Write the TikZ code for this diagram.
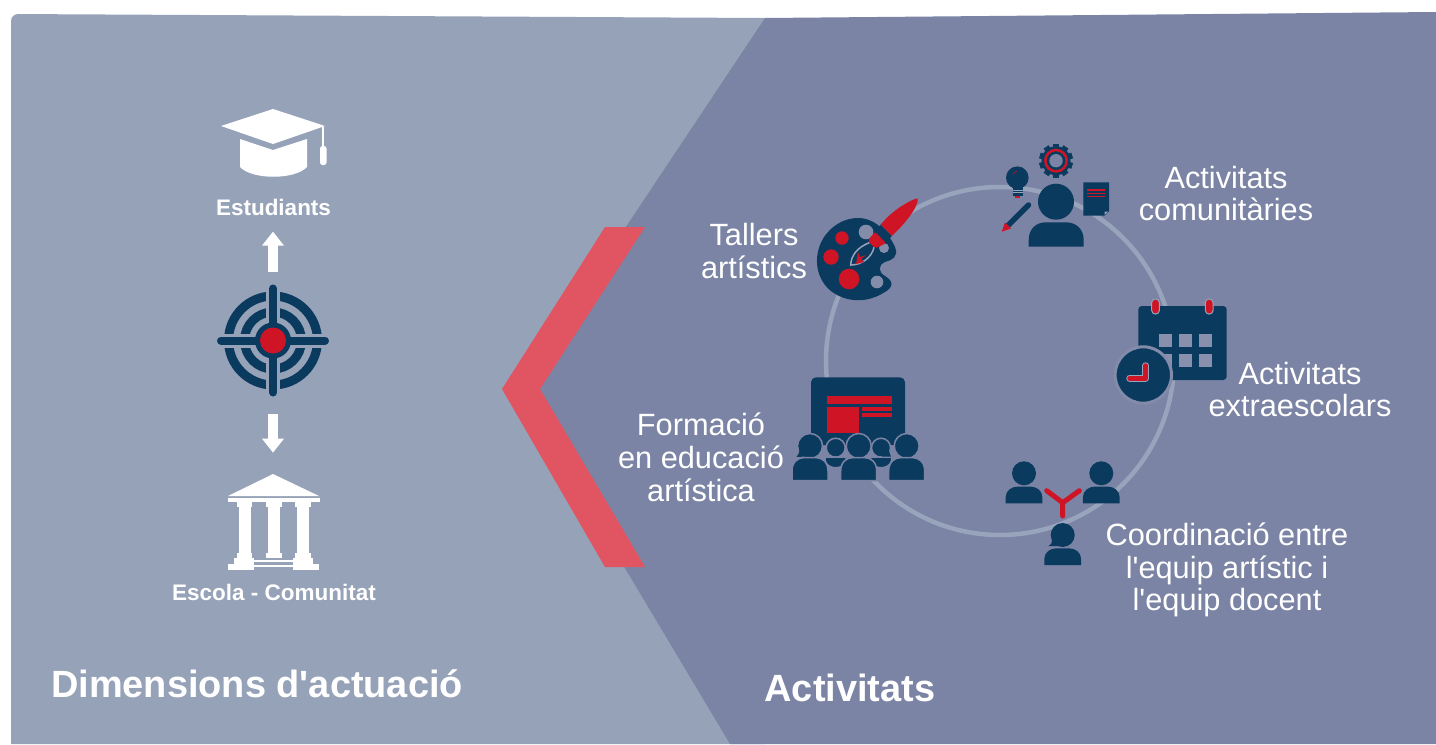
\documentclass[tikz,border=0pt]{standalone}
\usepackage{fontspec}
\setmainfont{Liberation Sans}
\usepackage{xcolor}
\usetikzlibrary{arrows.meta}
\definecolor{leftpanel}{HTML}{96A2B8}
\definecolor{rightpanel}{HTML}{7B84A4}
\definecolor{chevron}{HTML}{E05561}
\definecolor{navy}{HTML}{0B3A5F}
\definecolor{brightred}{HTML}{CF1425}
\definecolor{ringcol}{HTML}{98A4BC}

\begin{document}
\begin{tikzpicture}[x=0.02cm,y=-0.02cm,
    activity/.style={text=white,align=center,inner sep=0,font=\fontsize{17.5}{18.7}\selectfont},
    dimlabel/.style={text=white,inner sep=0,font=\bfseries\fontsize{12.8}{14}\selectfont},
    bigtitle/.style={text=white,inner sep=0,font=\bfseries\fontsize{21.6}{24}\selectfont},
    blockarrow/.style={white,line width=0.2cm,-{Triangle[length=0.28cm,width=0.42cm]}},
    icon/.style={fill=navy},
    halo/.style={fill=navy,draw=rightpanel,line width=0.03cm},
    redline/.style={brightred,line cap=round,line width=0.1cm}]
    \useasboundingbox (0,0) rectangle (1436,744);

    % Panels
    \fill[leftpanel] [rounded corners=0.14cm] (11,744) -- (11,14) [sharp corners] -- (765,18) -- (765,744) -- cycle;
    \fill[rightpanel] (765,18) -- (1436,12) -- (1436,744) -- (730,744) -- (518,389) -- cycle;
    \fill[chevron] (605,227) -- (645,227) -- (540,389) -- (645,567) -- (605,567) -- (502,389) -- cycle;

    % Ring
    \draw[ringcol,line width=0.09cm] (1000,361) circle (174);

    % Left column
    \node[dimlabel] (estudiants) at (273.5,207) {Estudiants};
    \node[dimlabel] (escola) at (274,592) {Escola - Comunitat};
    \node[bigtitle] (dimensions) at (257,684) {Dimensions d\textquotesingle actuació};
    \node[bigtitle] (activitats) at (850,688) {Activitats};
    \node[circle,minimum size=2.24cm,inner sep=0] (target) at (273,340.5) {};
    \node[minimum width=1.84cm,minimum height=1.92cm,inner sep=0] (temple) at (273.5,522) {};

    % Mortarboard
    \fill[white] (273,109) -- (325,126) -- (273,144) -- (221,126) -- cycle;
    \fill[white] (240,139) -- (273,150) -- (307,139) -- (307,167) .. controls (295,180) and (252,180) .. (240,167) -- cycle;
    \draw[white,line width=0.04cm] (323,127) -- (323,147);
    \fill[white,rounded corners=0.05cm] (320,146) rectangle (326.5,165);

    % Target
    \foreach \r in {44.5,28.5}
        \draw[navy,line width=0.18cm] (target.center) circle (\r);
    \draw[leftpanel,line width=0.28cm] (217,340.5) -- (329,340.5);
    \draw[leftpanel,line width=0.28cm] (273,284.5) -- (273,396.5);
    \draw[navy,line width=0.16cm,line cap=round] (221,340.5) -- (325,340.5);
    \draw[navy,line width=0.16cm,line cap=round] (273,288.5) -- (273,392.5);
    \fill[navy] (target.center) circle (18);
    \fill[brightred] (target.center) circle (13);

    % Arrows
    \draw[blockarrow,shorten <=0.24cm,shorten >=0.32cm] (target) -- (target |- estudiants.south);
    \draw[blockarrow,shorten <=0.34cm,shorten >=0.42cm] (target) -- (temple.north -| target);

    % Temple
    \fill[white] (273,474) -- (319,496) -- (228,496) -- cycle;
    \fill[white] (228,497.5) rectangle (319.5,501.7);
    \foreach \x in {244.5,273.8,303}{
        \fill[white] (\x-7.8,502.4) rectangle (\x+7.8,506.7);
        \fill[white] (\x-6,506.7) rectangle (\x+6,553);
        \fill[white] (\x-7.8,553) rectangle (\x+7.8,557.7);
    }
    \fill[white] (234,557.7) rectangle (254.3,564);
    \fill[white] (228,564) rectangle (254.3,570);
    \fill[white] (292.7,557.7) rectangle (313,564);
    \fill[white] (292.7,564) rectangle (319.3,570);
    \fill[white] (254,560) rectangle (293,562);
    \fill[white] (254,565) rectangle (293,567.3);

    % Palette
    \fill[icon] (858,218) .. controls (875,218) and (888,232) .. (895,247) .. controls (899,257) and (892,260) .. (885,262)
        .. controls (878,265) and (878,272) .. (885,276) .. controls (895,282) and (892,288) .. (885,292)
        .. controls (860,308) and (835,298) .. (825,285) .. controls (812,268) and (816,245) .. (828,232) .. controls (836,223) and (847,218) .. (858,218) -- cycle;
    \fill[rightpanel!70!leftpanel] (866,232) circle (7.3) (884,248) circle (5) (877,282) circle (6.3);
    \fill[brightred] (842,238) circle (6.7) (831,257) circle (7.7) (849,279) circle (10.3);
    % Brush
    \fill[brightred] (917.7,198.3) .. controls (912,199) and (892,210) .. (880.7,224.7) -- (891.7,236) .. controls (905,224) and (919,206) .. (917.7,198.3) -- cycle;
    \fill[navy] (880.7,224.7) -- (891.7,236) -- (886,243.3) -- (875,231.7) -- cycle;
    \fill[brightred,rounded corners=0.04cm] (875,231.7) -- (886,243.3) -- (875,248.5) -- (867.5,241) -- cycle;
    \draw[fill=navy,draw=ringcol,line width=0.03cm] (869.3,242.7) .. controls (858,247) and (851,255) .. (850.7,265) .. controls (862,265) and (872,257) .. (874,247.3);
    \fill[brightred] (856,264) -- (858,252) -- (860,257) -- (866,255) -- (861,259) -- (864,262) -- cycle;

    % Person with ideas
    \fill[icon] (1056,201.7) circle (18);
    \fill[icon] (1028.7,246.7) -- (1028.7,240) .. controls (1028.7,229) and (1036,222.3) .. (1046,222.3) -- (1066,222.3) .. controls (1076,222.3) and (1083.7,229) .. (1083.7,240) -- (1083.7,246.7) -- cycle;
    % Gear
    \foreach \a in {0,36,...,324}
        \fill[icon,shift={(1056,160.7)},rotate=\a] (-3,-17) rectangle (3,-12);
    \fill[icon] (1056,160.7) circle (14.5);
    \draw[brightred,line width=0.05cm] (1056,160.7) circle (10.7);
    \fill[rightpanel] (1056,160.7) circle (6.7);
    % Bulb
    \fill[icon] (1017.3,177.7) circle (11.3);
    \fill[icon] (1012.7,186) rectangle (1022.7,195.7);
    \draw[ringcol,line width=0.01cm] (1013,190) -- (1022.5,190) (1013,192.7) -- (1022.5,192.7);
    \fill[brightred] (1015,195.7) rectangle (1020,197.7);
    \draw[brightred,line width=0.01cm] (1013.5,174.5) .. controls (1014,172.5) and (1015.5,171.5) .. (1017,171);
    % Pencil
    \draw[navy,line width=0.11cm,line cap=round] (1007.5,226) -- (1028.5,205);
    \fill[brightred] (1001.7,231.7) -- (1005,222.5) -- (1011,228.5) -- cycle;
    % Sheet
    \fill[icon] (1083.3,182.3) -- (1109,182.3) -- (1109,211) -- (1104.5,215.7) -- (1083.3,215.7) -- cycle;
    \fill[ringcol] (1108,211.5) -- (1104.5,215) -- (1104.5,211.5) -- cycle;
    \foreach \y in {190,193.3,196.7}
        \draw[brightred,line width=0.03cm] (1087.3,\y) -- (1105,\y);

    % Calendar
    \fill[icon,rounded corners=0.07cm] (1138.3,306) rectangle (1226.7,380);
    \foreach \x in {1155.5,1209.2}
        \draw[fill=brightred,draw=ringcol,line width=0.02cm,rounded corners=0.07cm] (\x-3.8,299) rectangle (\x+3.8,314);
    \foreach \x in {1159.3,1179.3,1199.3}
        \foreach \y in {334,354}
            \fill[rightpanel!90!white] (\x,\y) rectangle (\x+13,\y+12.7);
    % Clock
    \draw[fill=navy,draw=rightpanel!75!ringcol,line width=0.06cm] (1143.3,375) circle (28.2);
    \draw[ringcol,line width=0.13cm,line cap=round,line join=round] (1145.7,365.5) -- (1145.7,378.3) -- (1129.5,378.3);
    \draw[brightred,line width=0.09cm,line cap=round,line join=round] (1145.7,365.5) -- (1145.7,378.3) -- (1129.5,378.3);

    % Screen and audience
    \fill[icon,rounded corners=0.1cm] (811,377.3) rectangle (905,445);
    \fill[brightred] (827.3,396) rectangle (891.7,404.3);
    \fill[brightred] (827.3,406.7) rectangle (859.3,432.7);
    \fill[brightred] (861.7,406.7) rectangle (891.7,410.7);
    \fill[brightred] (861.7,413.3) rectangle (891.7,417.3);
    \foreach \x in {835.7,881}{
        \draw[halo] (\x,447.7) circle (9.5);
        \draw[halo] (\x-10.5,457) -- (\x+10.5,457) -- (\x+10.5,461) .. controls (\x+8,470) and (\x-8,470) .. (\x-10.5,461) -- cycle;
    }
    \foreach \x in {810,858.7,906.7}{
        \draw[halo] (\x,446) circle (12.5);
        \draw[halo] (\x-18,480.7) -- (\x-18,471) .. controls (\x-18,462) and (\x-12,457.6) .. (\x-6,457.6) -- (\x+6,457.6) .. controls (\x+12,457.6) and (\x+18,462) .. (\x+18,471) -- (\x+18,480.7) -- cycle;
    }
    \fill[icon] (799.5,449) .. controls (799.5,453) and (798,455) .. (796.5,457) -- (806,456.5) -- cycle;
    \fill[icon] (889,448) .. controls (889,452) and (890,455) .. (891,456.5) -- (882,456.5) -- cycle;

    % Coordination
    \foreach \x/\y in {1024/473.3,1101.3/473.3,1062.7/535}{
        \fill[icon] (\x,\y) circle (12);
        \fill[icon] (\x-18.4,\y+30) -- (\x-18.4,\y+24) .. controls (\x-18.4,\y+17) and (\x-12,\y+13.4) .. (\x-7,\y+13.4) -- (\x+7,\y+13.4) .. controls (\x+12,\y+13.4) and (\x+18.4,\y+17) .. (\x+18.4,\y+24) -- (\x+18.4,\y+30) -- cycle;
    }
    \fill[icon] (1052,540) .. controls (1052,544) and (1050,545) .. (1048.3,546.2) -- (1060,546) -- cycle;
    \draw[redline] (1046.7,490.7) -- (1062.7,502.7) -- (1079.3,490.7) (1062.7,502.7) -- (1062.7,516);

    % Activity labels
    \node[activity] (tallers) at (754,251) {Tallers\\artístics};
    \node[activity] (comunitaries) at (1226,193.5) {Activitats\\comunitàries};
    \node[activity] (extra) at (1300,389.5) {Activitats\\extraescolars};
    \node[activity] (formacio) at (701,457) {Formació\\en educació\\artística};
    \node[activity] (coordinacio) at (1227,570) {Coordinació entre\\l\textquotesingle equip artístic i\\l\textquotesingle equip docent};
\end{tikzpicture}
\end{document}
